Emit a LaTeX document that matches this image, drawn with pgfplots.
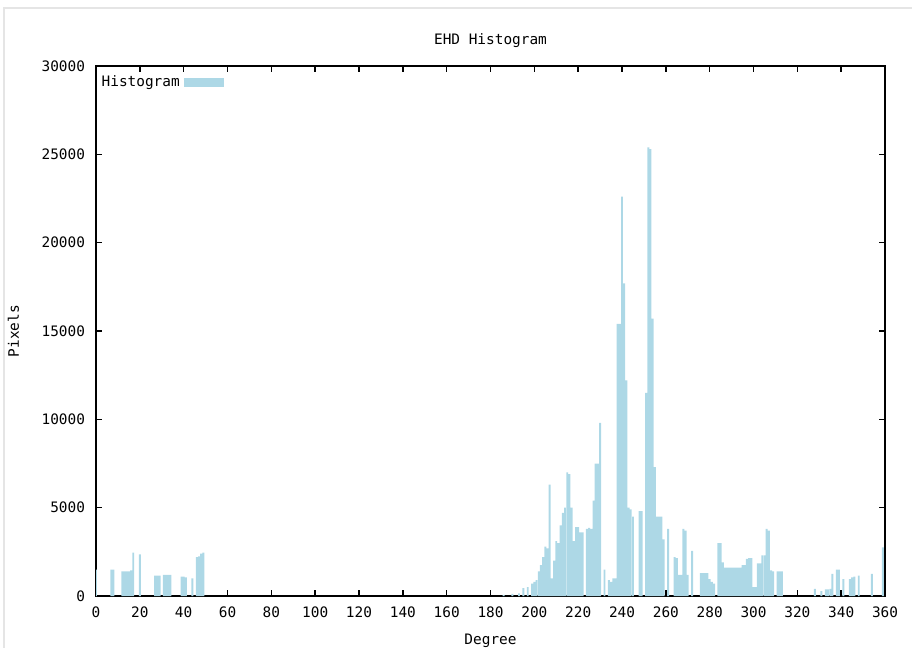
\documentclass[border=0pt]{standalone}
\usepackage{fontspec}
\setmainfont{DejaVu Sans Mono}
\usepackage{pgfplots}
\pgfplotsset{compat=1.18}
\usepackage{pgfplotstable}
\definecolor{histblue}{RGB}{173,216,230}

\pgfplotstableread{
deg count
0 1500
7 1500
8 1500
12 1400
13 1400
14 1400
15 1400
16 1450
17 2450
20 2350
27 1150
28 1150
29 1150
31 1200
32 1200
33 1200
34 1200
39 1100
40 1100
41 1050
44 1000
46 2200
47 2250
48 2400
49 2450
186 60
190 120
193 150
195 450
197 500
199 700
200 800
201 900
202 1400
203 1750
204 2200
205 2800
206 2700
207 6300
208 1000
209 2000
210 3100
211 3000
212 4000
213 4700
214 5000
215 7000
216 6900
217 5000
218 3100
219 3900
220 3900
221 3600
222 3600
224 3800
225 3850
226 3800
227 5400
228 7500
229 7500
230 9800
232 1500
234 900
235 800
236 1000
237 1000
238 15400
239 15400
240 22600
241 17700
242 12200
243 5000
244 4900
245 4500
248 4800
249 4800
251 11500
252 25400
253 25300
254 15700
255 7300
256 4500
257 4500
258 4500
259 3200
261 3800
264 2200
265 2150
266 1200
267 1200
268 3800
269 3700
270 1200
272 2550
276 1300
277 1300
278 1300
279 1300
280 950
281 800
282 700
284 3000
285 3000
286 1900
287 1600
288 1600
289 1600
290 1600
291 1600
292 1600
293 1600
294 1600
295 1750
296 1750
297 2100
298 2150
299 2150
300 500
301 500
302 1850
303 1850
304 2300
305 2300
306 3800
307 3700
308 1450
309 1400
311 1400
312 1400
313 1400
328 400
331 280
333 380
334 380
335 400
336 1250
338 1500
339 1500
341 950
344 950
345 1050
346 1100
348 1150
354 1250
359 2750
}\histdata

\begin{document}
\begin{tikzpicture}
\begin{axis}[
  name=ax,
  at={(0,0)}, anchor=south west,
  scale only axis, width=394.5pt, height=265pt,
  xmin=0, xmax=360, ymin=0, ymax=30000,
  xtick={0,20,...,360}, ytick={0,5000,...,30000},
  tick pos=both, tick align=inside,
  major tick length=3pt,
  tick style={black, line width=0.8pt},
  axis line style={black, line width=1pt},
  scaled y ticks=false,
  font=\fontsize{7.2}{8.6}\selectfont,
  /pgf/number format/.cd, 1000 sep={}, assume math mode=true, /pgfplots/.cd,
  xticklabel style={yshift=-2pt},
  yticklabel style={xshift=-2pt},
  title={EHD Histogram},
  every axis title/.style={at={(axis description cs:0.5,1.022)}, anchor=south},
  xlabel={Degree},
  every axis x label/.style={at={(axis description cs:0.5,-0.058)}, anchor=north},
  ylabel={Pixels},
  every axis y label/.style={at={(axis description cs:-0.0885,0.5)}, rotate=90, anchor=south},
  legend plot pos=right,
  legend cell align=left,
  legend style={at={(axis description cs:-0.006,0.998)}, anchor=north west, draw=none, fill=none, font=\fontsize{7.2}{8.6}\selectfont},
]
\addplot[ybar, bar width=0.88, fill=histblue, draw=none,
  legend image code/.code={\fill[histblue] (3pt,-2.3pt) rectangle (23pt,2.3pt);}]
  table[x=deg, y=count]{\histdata};
\addlegendentry{Histogram}
\end{axis}
\draw[black!10, line width=1.2pt] ([shift={(-46pt,-26pt)}]ax.south west) -- ([shift={(-46pt,29pt)}]ax.north west) -- ([shift={(13.5pt,29pt)}]ax.north east);
\pgfresetboundingbox
\path[use as bounding box] ([shift={(-48pt,-26pt)}]ax.south west) rectangle ([shift={(13.5pt,33pt)}]ax.north east);
\end{tikzpicture}
\end{document}
